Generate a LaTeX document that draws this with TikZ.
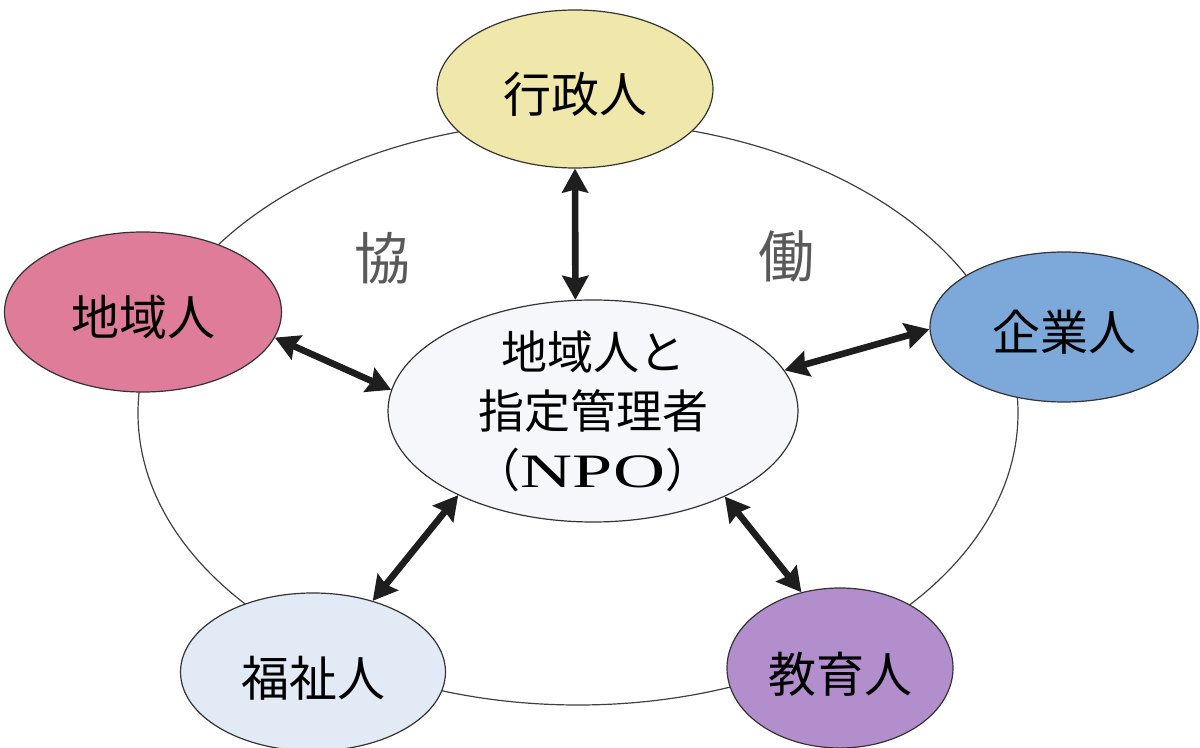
\documentclass[tikz,border=0pt]{standalone}
\usepackage{fontspec}
\setmainfont{Noto Sans CJK JP}
\newfontfamily\npofont{Liberation Serif}
\usetikzlibrary{shapes.geometric,arrows.meta}
\definecolor{cyellow}{RGB}{240,232,170}
\definecolor{cpink}{RGB}{222,124,154}
\definecolor{cblue}{RGB}{125,168,218}
\definecolor{clblue}{RGB}{226,234,246}
\definecolor{cpurple}{RGB}{178,143,204}
\definecolor{ccenter}{RGB}{246,247,250}
\definecolor{carrow}{RGB}{30,30,30}
\begin{document}
\begin{tikzpicture}[x=0.5pt,y=-0.5pt,
  ellb/.style={ellipse,draw=black!80,line width=0.6pt,inner sep=0pt},
  ell/.style={ellb,font=\fontsize{24}{28}\selectfont,text height=25pt,text depth=1pt},
  dbl/.style={line width=3.3pt,draw=carrow,{Stealth[length=12pt,width=13pt,inset=1.5pt]}-{Stealth[length=12pt,width=13pt,inset=1.5pt]}},
  kyo/.style={font=\fontsize{28}{30}\selectfont,text=black!65},
  ctext/.style={align=center,font=\fontsize{23}{29.5}\selectfont}]
\useasboundingbox (0,0) rectangle (1200,748);
\draw[line width=0.6pt,black!75] (578,413) ellipse [x radius=220pt,y radius=146pt];
\node[kyo] (kyou) at (382,258) {協};
\node[kyo] (dou) at (786,256) {働};
\node[ell,fill=cyellow,minimum width=138pt,minimum height=79pt] (gy) at (575,89) {行政人};
\node[ell,fill=cpink,minimum width=138.5pt,minimum height=80pt] (ch) at (143,312) {地域人};
\node[ell,fill=cblue,minimum width=134pt,minimum height=75pt] (ki) at (1064,327) {企業人};
\node[ell,fill=clblue,minimum width=132.5pt,minimum height=79pt] (fu) at (313,672) {福祉人};
\node[ell,fill=cpurple,minimum width=113pt,minimum height=80pt] (ky) at (840,668) {教育人};
\node[ellb,fill=ccenter,minimum width=205pt,minimum height=111pt] (c) at (593,411) {};
\node[ctext] (ct) at (c.center) {地域人と\\指定管理者\\（{\npofont\fontsize{24}{29.5}\selectfont\scalebox{1.5}[1]{NPO}}）};
\draw[dbl] (gy.south) -- (c.99);
\draw[dbl] (ch.-11) -- (c.174);
\draw[dbl] (ki.181) -- (c.12);
\draw[dbl] (fu.50) -- (c.212);
\draw[dbl] (ky.117) -- (c.-33);
\end{tikzpicture}
\end{document}
